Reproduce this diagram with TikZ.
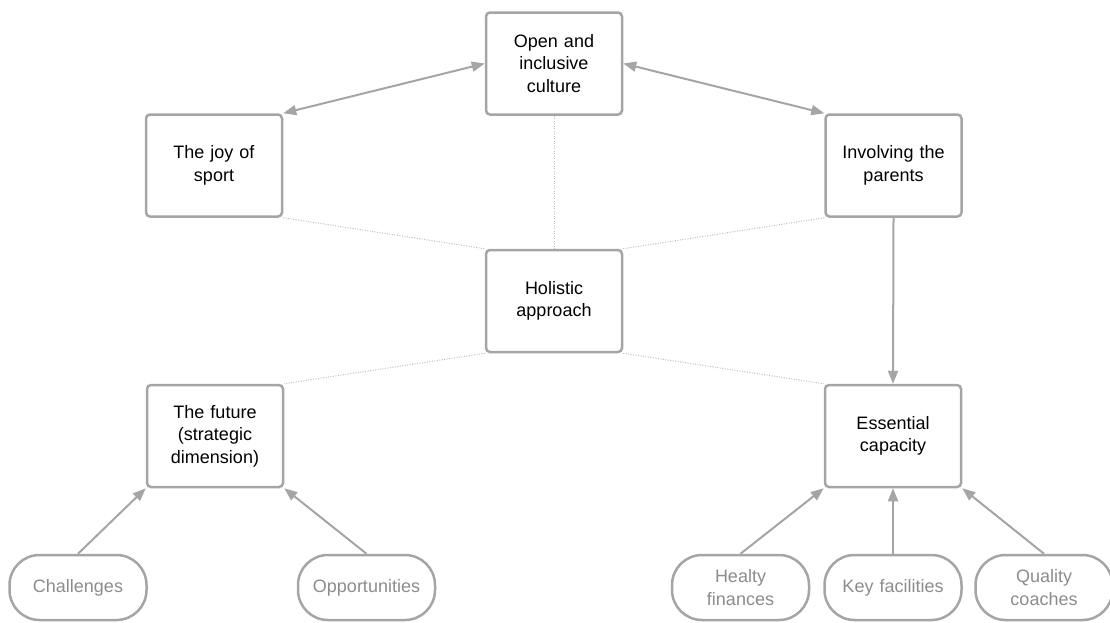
\documentclass[tikz,border=0pt]{standalone}
\usepackage{fontspec}
\setmainfont{Liberation Sans}
\usetikzlibrary{arrows.meta}
\definecolor{edgegray}{HTML}{A5A5A5}
\definecolor{dotgray}{HTML}{BDBDBD}
\definecolor{pilltext}{HTML}{8C8C8C}
\begin{document}
\begin{tikzpicture}[x=1pt,y=-1pt,
 box/.style={draw=edgegray,line width=2.5pt,rounded corners=4pt,minimum width=136pt,minimum height=102pt,text width=128pt,align=center,font=\fontsize{18}{22.5}\selectfont,inner sep=0pt},
 pill/.style={draw=edgegray,line width=2.5pt,rounded corners=30pt,minimum width=137pt,minimum height=65pt,text width=128pt,align=center,font=\fontsize{18}{22.5}\selectfont,text=pilltext,inner sep=0pt},
 arr/.style={draw=edgegray,line width=2pt,-{Triangle[length=13pt,width=10pt]}},
 darr/.style={draw=edgegray,line width=2pt,{Triangle[length=13pt,width=10pt]}-{Triangle[length=13pt,width=10pt]}},
 dots/.style={draw=dotgray,line width=1pt,dash pattern=on 1pt off 1.5pt}]
\useasboundingbox (0,0) rectangle (1110,622);
\node[box] (open) at (554,63.5) {Open and\\inclusive\\culture};
\node[box] (joy) at (214,165.5) {The joy of\\sport};
\node[box] (inv) at (893.5,165.5) {Involving the\\parents};
\node[box] (hol) at (554,301) {Holistic\\approach};
\node[box] (fut) at (215,436) {The future\\(strategic\\dimension)};
\node[box] (ess) at (893,436) {Essential\\capacity};
\node[pill] (chal) at (78,587.5) {Challenges};
\node[pill] (opp) at (366.5,587.5) {Opportunities};
\node[pill] (fin) at (740.5,587.5) {Healty\\finances};
\node[pill] (key) at (893,587.5) {Key facilities};
\node[pill] (qual) at (1044,587.5) {Quality\\coaches};
\draw[darr] (joy.north east) -- (open.west);
\draw[darr] (inv.north west) -- (open.east);
\draw[arr] (inv.south) -- (ess.north);
\draw[dots] (open.south) -- (hol.north);
\draw[dots] (joy.south east) -- (hol.north west);
\draw[dots] (inv.south west) -- (hol.north east);
\draw[dots] (hol.south west) -- (fut.north east);
\draw[dots] (hol.south east) -- (ess.north west);
\draw[arr] (chal.north) -- (fut.south west);
\draw[arr] (opp.north) -- (fut.south east);
\draw[arr] (fin.north) -- (ess.south west);
\draw[arr] (key.north) -- (ess.south);
\draw[arr] (qual.north) -- (ess.south east);
\end{tikzpicture}
\end{document}
